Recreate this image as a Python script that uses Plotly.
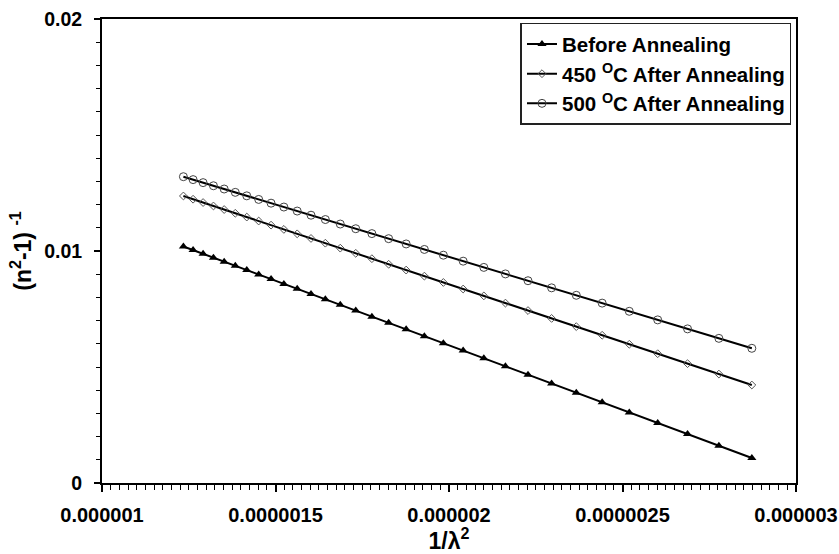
import plotly.graph_objects as go

# x = 1/lambda^2 (nm^-2)
x_vals = [1.234568e-6, 1.262467e-6, 1.291322e-6, 1.321178e-6, 1.352082e-6, 1.384083e-6,
          1.417234e-6, 1.451589e-6, 1.487210e-6, 1.524158e-6, 1.562500e-6, 1.602307e-6,
          1.643655e-6, 1.686625e-6, 1.731302e-6, 1.777778e-6, 1.826150e-6, 1.876525e-6,
          1.929012e-6, 1.983733e-6, 2.040816e-6, 2.100399e-6, 2.162630e-6, 2.227668e-6,
          2.295684e-6, 2.366864e-6, 2.441406e-6, 2.519526e-6, 2.601457e-6, 2.687450e-6,
          2.777778e-6, 2.872738e-6]

before_annealing = [0.010194, 0.010039, 0.009878, 0.009712, 0.009540, 0.009362, 0.009177, 0.008986,
                    0.008788, 0.008582, 0.008369, 0.008148, 0.007917, 0.007678, 0.007430, 0.007171,
                    0.006902, 0.006622, 0.006330, 0.006025, 0.005707, 0.005376, 0.005029, 0.004668,
                    0.004289, 0.003893, 0.003478, 0.003043, 0.002587, 0.002109, 0.001606, 0.001078]

after_450 = [0.012371, 0.012232, 0.012089, 0.011940, 0.011787, 0.011627, 0.011463, 0.011292,
             0.011115, 0.010931, 0.010740, 0.010542, 0.010337, 0.010123, 0.009901, 0.009669,
             0.009429, 0.009178, 0.008917, 0.008645, 0.008361, 0.008065, 0.007755, 0.007432,
             0.007094, 0.006740, 0.006369, 0.005981, 0.005573, 0.005145, 0.004696, 0.004224]

after_500 = [0.013203, 0.013077, 0.012947, 0.012812, 0.012672, 0.012528, 0.012378, 0.012223,
             0.012062, 0.011895, 0.011722, 0.011543, 0.011356, 0.011162, 0.010960, 0.010750,
             0.010532, 0.010304, 0.010067, 0.009820, 0.009562, 0.009293, 0.009012, 0.008719,
             0.008412, 0.008090, 0.007754, 0.007401, 0.007031, 0.006643, 0.006235, 0.005806]

series_names = ["Before Annealing", "450 <sup>O</sup>C After Annealing", "500 <sup>O</sup>C After Annealing"]

x_tickvals = [0.000001, 0.0000015, 0.000002, 0.0000025, 0.000003]
x_ticktext = ["0.000001", "0.0000015", "0.000002", "0.0000025", "0.000003"]

FONT = "Liberation Sans, Arial, sans-serif"

fig = go.Figure()
fig.add_trace(go.Scatter(
    x=x_vals, y=before_annealing, name=series_names[0], mode="lines+markers",
    line=dict(color="black", width=2),
    marker=dict(symbol="triangle-up", size=8, color="black"),
))
fig.add_trace(go.Scatter(
    x=x_vals, y=after_450, name=series_names[1], mode="lines+markers",
    line=dict(color="black", width=2),
    marker=dict(symbol="diamond-open", size=6, color="#555555", line=dict(width=1)),
))
fig.add_trace(go.Scatter(
    x=x_vals, y=after_500, name=series_names[2], mode="lines+markers",
    line=dict(color="black", width=2),
    marker=dict(symbol="circle-open", size=8, color="#444444", line=dict(width=1)),
))

fig.update_layout(
    width=839, height=554,
    margin=dict(l=102, r=43, t=19, b=71),
    paper_bgcolor="white", plot_bgcolor="white",
    font=dict(family=FONT, color="black", size=18, weight="bold"),
    showlegend=True,
    legend=dict(
        x=0.9935, y=0.992, xanchor="right", yanchor="top",
        bgcolor="white", bordercolor="#222222", borderwidth=1.5,
        font=dict(family=FONT, size=20.5, color="black", weight="bold"),
        itemwidth=30,
    ),
)

fig.update_xaxes(
    range=[0.000001, 0.000003], automargin=False,
    tickvals=x_tickvals, ticktext=x_ticktext,
    tickfont=dict(family=FONT, size=20, weight="bold"),
    ticks="outside", ticklen=7, tickwidth=1.5, tickcolor="black",
    ticklabelstandoff=6,
    minor=dict(dtick=0.000000025, ticks="outside", ticklen=5, tickwidth=1, tickcolor="black", showgrid=False),
    showline=True, linecolor="black", linewidth=2, mirror=True,
    showgrid=False, zeroline=False,
    title=dict(text="1/λ<sup>2</sup>", font=dict(family=FONT, size=23, weight="bold"), standoff=2),
)

fig.update_yaxes(
    range=[0, 0.02], automargin=False,
    tickvals=[0, 0.01, 0.02], ticktext=["0", "0.01", "0.02"],
    tickfont=dict(family=FONT, size=19.5, weight="bold"),
    ticks="outside", ticklen=6, tickwidth=1.5, tickcolor="black",
    ticklabelstandoff=8,
    minor=dict(dtick=0.001, ticks="outside", ticklen=4, tickwidth=1, tickcolor="black", showgrid=False),
    showline=True, linecolor="black", linewidth=2, mirror=True,
    showgrid=False, zeroline=False,
    title=dict(text="(n<sup>2</sup>-1) <sup>-1</sup>", font=dict(family=FONT, size=23, weight="bold"), standoff=6),
)

fig.write_html("out.html")
